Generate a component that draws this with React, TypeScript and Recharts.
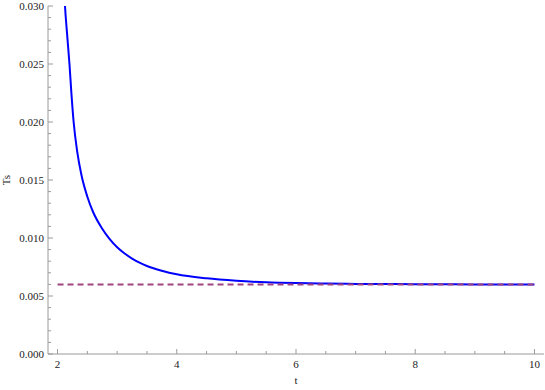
import React from 'react';
import { LineChart, Line, XAxis, YAxis } from 'recharts';

// Curve values
const tValues = [2.1, 2.12, 2.16, 2.2, 2.235, 2.27, 2.33, 2.4, 2.5, 2.6, 2.75, 2.875, 3.0, 3.125, 3.25, 3.375, 3.5, 3.75, 4.0, 4.5, 5.0, 5.5, 6.0, 6.5, 7.0, 8.0, 9.0, 10.0];
const tsValues = [0.033, 0.0305, 0.0276, 0.025, 0.0223, 0.02, 0.01745, 0.01545, 0.01356, 0.0122, 0.0108, 0.0099, 0.0092, 0.00866, 0.00823, 0.00788, 0.00759, 0.00718, 0.00687, 0.00652, 0.00631, 0.00618, 0.00611, 0.00607, 0.00604, 0.00602, 0.006, 0.006];

// Asymptote (dashed)
const asymptoteT = [2, 10];
const asymptoteTs = [0.006, 0.006];

const xTicks = [2, 2.5, 3, 3.5, 4, 4.5, 5, 5.5, 6, 6.5, 7, 7.5, 8, 8.5, 9, 9.5, 10];
const yTicks = [0, 0.001, 0.002, 0.003, 0.004, 0.005, 0.006, 0.007, 0.008, 0.009, 0.01, 0.011, 0.012, 0.013, 0.014, 0.015, 0.016, 0.017, 0.018, 0.019, 0.02, 0.021, 0.022, 0.023, 0.024, 0.025, 0.026, 0.027, 0.028, 0.029, 0.03];

const curveData = tValues.map((t, i) => ({ t, ts: tsValues[i] }));
const asymptoteData = asymptoteT.map((t, i) => ({ t, ts: asymptoteTs[i] }));

const FRAME = '#9a9a9a';
const FONT = "'Liberation Serif', 'Times New Roman', Times, Tinos, 'DejaVu Serif', 'Noto Serif', serif";
const textStyle = { fontFamily: FONT, fontSize: 11 };

const isMajorX = (v: number) => Math.abs(v - Math.round(v)) < 1e-9 && Math.round(v) % 2 === 0;
const isMajorY = (v: number) => Math.round(v * 1000) % 5 === 0;

const BottomTick = (props: any) => {
  const { x, y, payload } = props;
  const major = isMajorX(payload.value);
  return (
    <g>
      <line x1={x} x2={x} y1={y} y2={y - (major ? 5 : 3)} stroke={FRAME} strokeWidth={1} />
      {major && (
        <text x={x} y={y + 14} textAnchor="middle" style={textStyle} fill="#222">
          {payload.value}
        </text>
      )}
    </g>
  );
};

const TopTick = (props: any) => {
  const { x, y, payload } = props;
  const major = isMajorX(payload.value);
  return <line x1={x} x2={x} y1={y} y2={y + (major ? 5 : 3)} stroke={FRAME} strokeWidth={1} />;
};

const LeftTick = (props: any) => {
  const { x, y, payload } = props;
  const major = isMajorY(payload.value);
  return (
    <g>
      <line x1={x} x2={x + (major ? 5 : 3)} y1={y} y2={y} stroke={FRAME} strokeWidth={1} />
      {major && (
        <text x={x - 4} y={y + 4} textAnchor="end" style={textStyle} fill="#222">
          {payload.value.toFixed(3)}
        </text>
      )}
    </g>
  );
};

const RightTick = (props: any) => {
  const { x, y, payload } = props;
  const major = isMajorY(payload.value);
  return <line x1={x} x2={x - (major ? 5 : 3)} y1={y} y2={y} stroke={FRAME} strokeWidth={1} />;
};

export default function App() {
  return (
    <div style={{ position: 'absolute', left: 0, top: 0, fontFamily: FONT }}>
      <LineChart width={545} height={390} margin={{ top: 6, right: 1, bottom: 0, left: 0 }}>
        <XAxis
          xAxisId="b"
          type="number"
          dataKey="t"
          domain={[1.84, 10.16]}
          ticks={xTicks}
          interval={0}
          tickSize={0}
          tickMargin={0}
          tick={<BottomTick />}
          height={36}
          axisLine={{ stroke: FRAME }}
          allowDataOverflow
          label={{
            content: (p: any) => {
              const vb = p.viewBox;
              return (
                <text x={vb.x + vb.width / 2} y={vb.y + vb.height - 6} textAnchor="middle" style={textStyle} fill="#222">
                  t
                </text>
              );
            },
          }}
        />
        <XAxis
          xAxisId="t"
          orientation="top"
          type="number"
          dataKey="t"
          domain={[1.84, 10.16]}
          ticks={xTicks}
          interval={0}
          tickSize={0}
          tickMargin={0}
          tick={<TopTick />}
          height={0}
          axisLine={{ stroke: FRAME }}
          allowDataOverflow
        />
        <YAxis
          yAxisId="l"
          type="number"
          domain={[0, 0.03]}
          ticks={yTicks}
          interval={0}
          tickSize={0}
          tickMargin={0}
          tick={<LeftTick />}
          width={48}
          axisLine={{ stroke: FRAME }}
          allowDataOverflow
          label={{
            content: (p: any) => {
              const vb = p.viewBox;
              const cy = vb.y + vb.height / 2;
              return (
                <text x={10} y={cy} textAnchor="middle" style={textStyle} fill="#222" transform={`rotate(-90, 10, ${cy})`}>
                  Ts
                </text>
              );
            },
          }}
        />
        <YAxis
          yAxisId="r"
          orientation="right"
          type="number"
          domain={[0, 0.03]}
          ticks={yTicks}
          interval={0}
          tickSize={0}
          tickMargin={0}
          tick={<RightTick />}
          width={0}
          axisLine={{ stroke: FRAME }}
          allowDataOverflow
        />
        <Line
          xAxisId="b"
          yAxisId="l"
          data={curveData}
          dataKey="ts"
          type="monotone"
          stroke="#0000ff"
          strokeWidth={2}
          dot={false}
          isAnimationActive={false}
        />
        <Line
          xAxisId="b"
          yAxisId="l"
          data={asymptoteData}
          dataKey="ts"
          type="linear"
          stroke="#a0457f"
          strokeWidth={2}
          strokeDasharray="6 4"
          dot={false}
          isAnimationActive={false}
        />
      </LineChart>
    </div>
  );
}
